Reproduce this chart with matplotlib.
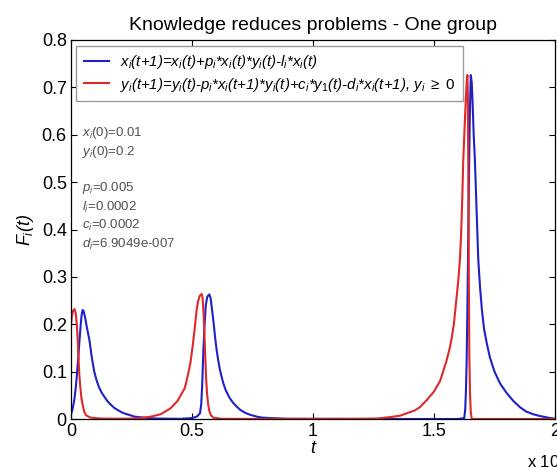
import matplotlib
matplotlib.use('Agg')
import matplotlib.pyplot as plt

plt.rcParams['font.family'] = ['Liberation Sans', 'DejaVu Sans']
plt.rcParams['mathtext.fontset'] = 'custom'
plt.rcParams['mathtext.rm'] = 'Liberation Sans'
plt.rcParams['mathtext.it'] = 'Liberation Sans:italic'

# x_i(t) - blue curve
blue_t = [0, 500, 1000, 1500, 2000, 2500, 3000, 3500, 4000, 4400, 4800, 5200,
          5800, 6500, 7600, 8600, 9600, 10500, 11500, 12600, 13800, 15000, 16500,
          18000, 19300, 21000, 22500, 24500, 26200, 30000, 35000, 45000, 50000,
          52000, 53300, 53800, 54200, 54700, 55200, 55700, 56300, 57150, 57700,
          58300, 59000, 59600, 60200, 60800, 61500, 62200, 62900, 64000, 65500,
          67000, 68500, 70000, 72000, 74000, 76700, 79000, 82000, 90000, 120000,
          150000, 160000, 162500, 162900, 163200, 163500, 163900, 164200, 164500,
          164800, 165200, 165600, 166000, 166400, 166900, 167600, 168300, 169000,
          169800, 170700, 171800, 173100, 175000, 177300, 180000, 182800, 185500,
          188000, 191000, 194000, 198000, 200000]
blue_F = [0.010, 0.018, 0.030, 0.045, 0.068, 0.097, 0.130, 0.165, 0.198, 0.220,
          0.230, 0.228, 0.215, 0.195, 0.167, 0.130, 0.100, 0.083, 0.068, 0.056,
          0.047, 0.038, 0.030, 0.023, 0.019, 0.014, 0.011, 0.008, 0.005, 0.003,
          0.001, 0.0003, 0.002, 0.005, 0.012, 0.030, 0.070, 0.145, 0.200, 0.240,
          0.258, 0.263, 0.255, 0.230, 0.200, 0.170, 0.145, 0.125, 0.105, 0.090,
          0.076, 0.060, 0.045, 0.034, 0.026, 0.019, 0.013, 0.009, 0.005, 0.003,
          0.002, 0.0005, 0.0, 0.0, 0.0, 0.002, 0.020, 0.060, 0.125, 0.270, 0.406,
          0.530, 0.640, 0.726, 0.710, 0.660, 0.600, 0.547, 0.440, 0.336, 0.280,
          0.230, 0.190, 0.160, 0.130, 0.100, 0.075, 0.055, 0.038, 0.025, 0.016,
          0.010, 0.006, 0.002, 0.0005]

# y_i(t) - red curve
red_t = [0, 400, 900, 1400, 1900, 2300, 2750, 3100, 3400, 3800, 4300, 4800,
         5500, 6200, 8000, 12000, 20000, 26000, 29000, 33000, 37000, 41000,
         44000, 47000, 48200, 49400, 50300, 51100, 51900, 52500, 53200, 54000,
         54400, 54800, 55200, 55500, 55800, 56200, 56700, 57200, 57800, 58700,
         62000, 80000, 120000, 126300, 132000, 136000, 138700, 142000, 144200,
         147000, 150000, 152500, 155000, 156300, 157300, 158200, 159000, 160000,
         160700, 161200, 161700, 162100, 162600, 163100, 163500, 163800, 164000,
         164200, 164400, 164600, 164900, 165200, 165600, 170000, 200000]
red_F = [0.200, 0.218, 0.229, 0.232, 0.225, 0.205, 0.170, 0.130, 0.097, 0.070,
         0.045, 0.030, 0.015, 0.008, 0.003, 0.001, 0.0005, 0.001, 0.002, 0.005,
         0.010, 0.022, 0.038, 0.065, 0.090, 0.120, 0.155, 0.190, 0.230, 0.248,
         0.260, 0.264, 0.255, 0.220, 0.170, 0.130, 0.089, 0.055, 0.030, 0.016,
         0.008, 0.003, 0.0005, 0.0, 0.0005, 0.001, 0.004, 0.007, 0.012, 0.018,
         0.025, 0.040, 0.058, 0.080, 0.120, 0.145, 0.170, 0.200, 0.240, 0.290,
         0.336, 0.390, 0.470, 0.547, 0.610, 0.670, 0.710, 0.726, 0.680, 0.500,
         0.300, 0.130, 0.050, 0.015, 0.0, 0.0, 0.0]

x_ticks = [0, 0.5, 1, 1.5, 2]
x_tick_labels = ['0', '0.5', '1', '1.5', '2']
y_ticks = [0, 0.1, 0.2, 0.3, 0.4, 0.5, 0.6, 0.7, 0.8]
y_tick_labels = ['0', '0.1', '0.2', '0.3', '0.4', '0.5', '0.6', '0.7', '0.8']
params = [r'$x_i$(0)=0.01', r'$y_i$(0)=0.2', '',
          r'$p_i$=0.005', r'$l_i$=0.0002', r'$c_i$=0.0002', r'$d_i$=6.9049e-007']

label_x = r'$x_i$(t+1)=$x_i$(t)+$p_i$*$x_i$(t)*$y_i$(t)-$l_i$*$x_i$(t)'
label_y = (r'$y_i$(t+1)=$y_i$(t)-$p_i$*$x_i$(t+1)*$y_i$(t)+$c_i$*$y_1$(t)'
           r'-$d_i$*$x_i$(t+1), $y_i$ $\geq$ $\mathrm{0}$')

fig = plt.figure(figsize=(5.57, 4.67), dpi=100)
ax = fig.add_axes([71 / 557, 1 - 419 / 467, 484 / 557, 379 / 467])

ax.plot([t / 1e5 for t in blue_t], blue_F, color='#2020c8', lw=1.5, label=label_x)
ax.plot([t / 1e5 for t in red_t], red_F, color='#e02828', lw=1.5, label=label_y)

ax.set_xlim(0, 2)
ax.set_ylim(0, 0.8)
ax.set_xticks(x_ticks)
ax.set_xticklabels(x_tick_labels)
ax.set_yticks(y_ticks)
ax.set_yticklabels(y_tick_labels)
ax.tick_params(direction='in', length=4, width=0.8, labelsize=13, pad=3,
               top=True, right=True)
for s in ax.spines.values():
    s.set_linewidth(0.9)

ax.set_title('Knowledge reduces problems - One group', fontsize=14, pad=7)
ax.set_xlabel('t', fontsize=13, style='italic', labelpad=0)
ax.set_ylabel(r'$F_i$(t)', fontsize=13, style='italic', labelpad=4)
fig.text(527 / 557, 1 - 460 / 467, r'x 10$^5$', fontsize=12, va='center')

leg = ax.legend(loc='upper left', bbox_to_anchor=(5 / 484, 1 - 5.5 / 379),
                borderaxespad=0, fancybox=False, framealpha=1,
                prop={'size': 10.8, 'style': 'italic'}, handlelength=1.7,
                handletextpad=0.75, borderpad=0.5, labelspacing=0.3)
leg.get_frame().set_edgecolor('#9a9a9a')
leg.get_frame().set_linewidth(1.0)

y0 = 1 - (133 - 40) / 379
for k, s in enumerate(params):
    ax.text(11 / 484, y0 - k * 18.5 / 379, s, transform=ax.transAxes,
            fontsize=9.5, color='#505050', va='center')

fig.savefig('out.png', dpi=100)
